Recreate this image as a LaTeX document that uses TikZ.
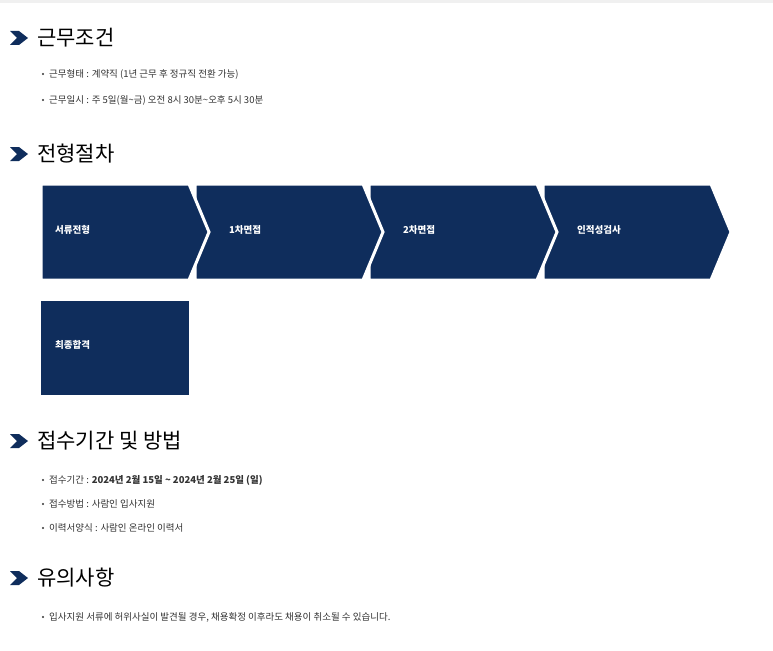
\documentclass[tikz,border=0pt]{standalone}
\usepackage{fontspec}
\setmainfont{Noto Sans CJK KR}
\definecolor{navy}{HTML}{0F2D5C}
\definecolor{txt}{HTML}{333333}
\begin{document}
\begin{tikzpicture}[x=1pt,y=-1pt,
  head/.style={anchor=west,font=\fontsize{21}{24}\selectfont,text=black,inner sep=0},
  item/.style={anchor=west,font=\fontsize{9.5}{11}\selectfont,text=txt,inner sep=0},
  stepbox/.style={fill=navy,draw=white,line width=3pt,line join=miter},
  lbl/.style={anchor=west,text=white,font=\fontsize{9.5}{11}\selectfont\bfseries,inner sep=0}]
\useasboundingbox[fill=white] (0,0) rectangle (773,650);
\fill[black!6] (0,0) rectangle (773,3);
\newcommand{\headicon}[1]{\fill[navy] (10,#1-7) -- (19,#1-7) -- (28,#1) -- (19,#1+7) -- (10,#1+7) -- (17,#1) -- cycle;}
\newcommand{\bul}[1]{\fill[txt] (43,#1) circle (1.2);}
% headings
\headicon{38} \node[head] (h1) at (37,38) {근무조건};
\headicon{154} \node[head] (h2) at (37,154) {전형절차};
\headicon{441} \node[head] (h3) at (37,441) {접수기간 및 방법};
\headicon{578} \node[head] (h4) at (37,578) {유의사항};
% items
\bul{74}\node[item] (a1) at (49,74) {근무형태 : 계약직 (1년 근무 후 정규직 전환 가능)};
\bul{100}\node[item] (a2) at (49,100) {근무일시 : 주 5일(월\textasciitilde 금) 오전 8시 30분\textasciitilde 오후 5시 30분};
\bul{480}\node[item] (c1) at (49,480) {접수기간 : \textbf{2024년 2월 15일 \textasciitilde\ 2024년 2월 25일 (일)}};
\bul{504}\node[item] (c2) at (49,504) {접수방법 : 사람인 입사지원};
\bul{528}\node[item] (c3) at (49,528) {이력서양식 : 사람인 온라인 이력서};
\bul{617}\node[item] (d1) at (49,617) {입사지원 서류에 허위사실이 발견될 경우, 채용확정 이후라도 채용이 취소될 수 있습니다.};
% steps (drawn right to left so arrows overlap)
\foreach \x/\w in {543/168,369/168,195/168,41/148}{
  \draw[stepbox] (\x,184) -- (\x+\w,184) -- (\x+\w+20,232) -- (\x+\w,280) -- (\x,280) -- cycle;
}
\node[lbl] (s1) at (55,230) {서류전형};
\node[lbl] (s2) at (229,230) {1차면접};
\node[lbl] (s3) at (403,230) {2차면접};
\node[lbl] (s4) at (577,230) {인적성검사};
\fill[navy] (41,301) rectangle (189,395);
\node[lbl] (s5) at (55,345) {최종합격};
\end{tikzpicture}
\end{document}
